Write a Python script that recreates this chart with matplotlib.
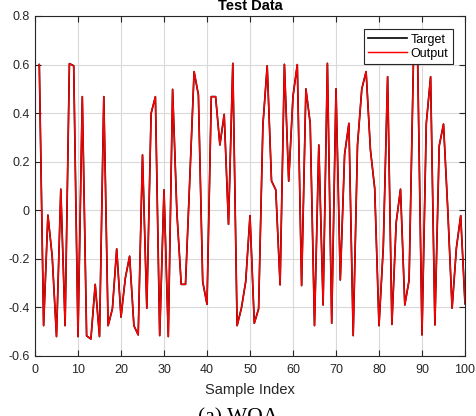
import numpy as np
import matplotlib.pyplot as plt

plt.rcParams['font.family'] = ['Liberation Sans', 'DejaVu Sans']
plt.rcParams['axes.unicode_minus'] = False

# test samples, target vs network output
sample_idx = np.arange(1, 101)
target = [
    0.600, -0.475, -0.020, -0.190, -0.520, 0.087, -0.475, 0.604, 0.595, -0.520,
    0.468, -0.517, -0.530, -0.305, -0.520, 0.468, -0.475, -0.406, -0.159, -0.440,
    -0.280, -0.189, -0.475, -0.513, 0.228, -0.403, 0.399, 0.468, -0.516, 0.084,
    -0.520, 0.498, -0.010, -0.305, -0.305, 0.130, 0.571, 0.475, -0.294, -0.387,
    0.468, 0.468, 0.269, 0.395, -0.058, 0.605, -0.475, -0.403, -0.294, -0.022,
    -0.465, -0.406, 0.351, 0.595, 0.121, 0.084, -0.307, 0.601, 0.120, 0.470,
    0.600, -0.310, 0.500, 0.358, -0.475, 0.269, -0.390, 0.605, -0.465, 0.500,
    -0.287, 0.230, 0.358, -0.516, 0.269, 0.500, 0.571, 0.250, 0.090, -0.475,
    -0.150, 0.550, -0.470, -0.050, 0.087, -0.390, -0.287, 0.605, 0.605, -0.513,
    0.358, 0.550, -0.472, 0.265, 0.355, 0.000, -0.403, -0.155, -0.022, -0.385,
]
output = list(target)

xticks = [0, 10, 20, 30, 40, 50, 60, 70, 80, 90, 100]
yticks = [-0.6, -0.4, -0.2, 0, 0.2, 0.4, 0.6, 0.8]
ytick_labels = ['-0.6', '-0.4', '-0.2', '0', '0.2', '0.4', '0.6', '0.8']

fig = plt.figure(figsize=(4.77, 4.16), dpi=100)
ax = fig.add_axes([35 / 477, 60 / 416, 430 / 477, 340 / 416])

ax.plot(sample_idx, target, color='black', lw=1.2, label='Target')
ax.plot(sample_idx, output, color='red', lw=1.05, label='Output')

ax.set_xlim(0, 100)
ax.set_ylim(-0.6, 0.8)
ax.set_xticks(xticks)
ax.set_yticks(yticks)
ax.set_yticklabels(ytick_labels)
ax.grid(True, color='#d9d9d9', lw=0.8)
ax.set_axisbelow(True)
ax.tick_params(direction='in', top=True, right=True, length=4, width=0.8,
               labelsize=9, colors='#262626')
ax.tick_params(axis='x', pad=6)
ax.tick_params(axis='y', pad=4)
for s in ax.spines.values():
    s.set_color('#262626')
    s.set_linewidth(0.8)

ax.set_xlabel('Sample Index', fontsize=10.5, color='#262626', labelpad=5)
ax.set_title('Test Data', fontsize=10.5, fontweight='bold', pad=4)

leg = ax.legend(loc='upper right', bbox_to_anchor=(0.9714, 0.961), borderaxespad=0,
                fontsize=9, frameon=True, fancybox=False, handlelength=3.1,
                handletextpad=0.3, labelspacing=0.15, borderpad=0.35)
leg.get_frame().set_edgecolor('#262626')
leg.get_frame().set_linewidth(0.8)
leg.get_frame().set_alpha(1)

fig.text(238 / 477, -6 / 416, '(a) WOA', family='Liberation Serif', fontsize=15.5,
         ha='center', va='baseline')

fig.savefig('out.png', dpi=100)
